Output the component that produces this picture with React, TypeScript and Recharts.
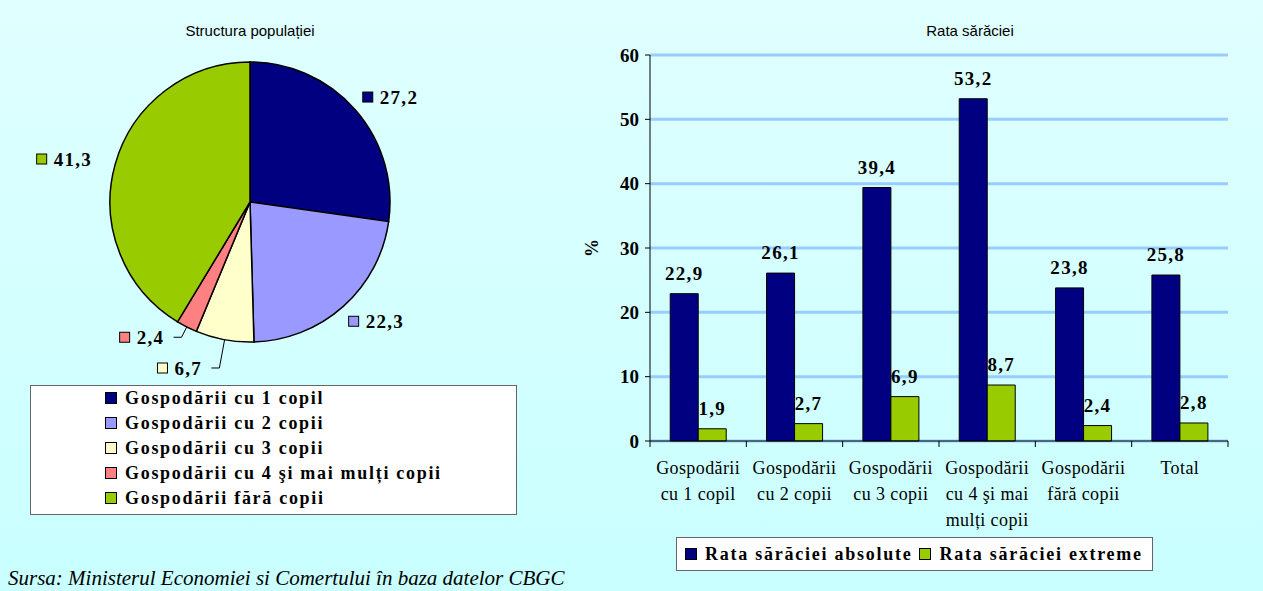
import { Bar, BarChart, CartesianGrid, Cell, LabelList, Pie, PieChart, XAxis, YAxis } from "recharts";

const groups = [
  "Gospodării cu 1 copil",
  "Gospodării cu 2 copii",
  "Gospodării cu 3 copii",
  "Gospodării cu 4 şi mai mulți copii",
  "Gospodării fără copii"
];
const populationShare = [27.2, 22.3, 6.7, 2.4, 41.3];
const groupColors = ["#000080", "#9999FF", "#FFFFCC", "#FF8080", "#99CC00"];

const categoryLines = [
  ["Gospodării", "cu 1 copil"],
  ["Gospodării", "cu 2 copii"],
  ["Gospodării", "cu 3 copii"],
  ["Gospodării", "cu 4 şi mai", "mulți copii"],
  ["Gospodării", "fără copii"],
  ["Total"]
];
const absolutePoverty = [22.9, 26.1, 39.4, 53.2, 23.8, 25.8];
const extremePoverty = [1.9, 2.7, 6.9, 8.7, 2.4, 2.8];
const yTicks = [0, 10, 20, 30, 40, 50, 60];

const seriesNames = ["Rata sărăciei absolute", "Rata sărăciei extreme"];
const seriesColors = ["#000080", "#99CC00"];

const SERIF = "'Liberation Serif', 'Times New Roman', serif";
const SANS = "'Liberation Sans', Arial, sans-serif";

const pieData = groups.map((name, i) => ({ name, value: populationShare[i] }));
const barData = categoryLines.map((lines, i) => ({
  name: lines.join(" "),
  absolute: absolutePoverty[i],
  extreme: extremePoverty[i]
}));

const fmt = (v: any) => Number(v).toFixed(1).replace(".", ",");

// bar chart geometry
const BAR_W = 660;
const BAR_H = 591;
const barMargin = { top: 55, right: 10, bottom: 60, left: 0 };
const Y_AXIS_W = 72;
const PLOT_W = BAR_W - barMargin.right - barMargin.left - Y_AXIS_W;

const valueStyle = { fontFamily: SERIF, fontWeight: "bold", fontSize: 19, fill: "#000", letterSpacing: 1.3 } as const;

const RAD = Math.PI / 180;

function PieLabel(props: any) {
  const { cx, cy, midAngle, outerRadius, value, index } = props;
  const cos = Math.cos(-midAngle * RAD);
  const sin = Math.sin(-midAngle * RAD);
  const text = fmt(value);
  const textW = text.length * 10.3;
  const groupW = 11 + 7 + textW;
  const right = cos >= 0;
  let ax: number, ay: number;
  let leader: any = null;
  if (value >= 10) {
    const r = outerRadius + 20;
    ax = cx + r * cos;
    ay = cy + r * sin;
    if (right) ax -= 8;
    else ax -= groupW;
  } else {
    const sx = cx + outerRadius * cos;
    const sy = cy + outerRadius * sin;
    const r = outerRadius + 2 + value * 4;
    const ex = cx + r * cos;
    const ey = cy + r * sin;
    const hx = right ? ex + 8 : ex - 8;
    leader = <polyline points={`${sx},${sy} ${ex},${ey} ${hx},${ey}`} fill="none" stroke="#000" strokeWidth={1} />;
    ax = right ? hx + 5 : hx - 5 - groupW;
    ay = ey;
  }
  return (
    <g>
      {leader}
      <rect x={ax} y={ay - 5} width={10} height={10} fill={groupColors[index]} stroke="#000" strokeWidth={1} />
      <text x={ax + 17} y={ay} dy="0.36em" style={valueStyle}>
        {text}
      </text>
    </g>
  );
}

function CategoryTick(props: any) {
  const { x, y, index } = props;
  const band = PLOT_W / categoryLines.length;
  const lines = categoryLines[index] || [];
  const last = index === categoryLines.length - 1;
  return (
    <g>
      <line x1={x - band / 2} y1={y} x2={x - band / 2} y2={y + 6} stroke="#000" />
      {last && <line x1={x + band / 2} y1={y} x2={x + band / 2} y2={y + 6} stroke="#000" />}
      {lines.map((line, i) => (
        <text key={i} x={x} y={y + 33 + i * 26} textAnchor="middle" fontFamily={SERIF} fontSize={18} letterSpacing={0.4} fill="#000">
          {line}
        </text>
      ))}
    </g>
  );
}

const swatch = (color: string) => (
  <span
    style={{
      display: "inline-block",
      width: 10,
      height: 10,
      background: color,
      border: "1px solid #000",
      marginRight: 8,
      verticalAlign: "middle",
      position: "relative",
      top: -2
    }}
  />
);

export default function App() {
  return (
    <div
      style={{
        position: "absolute",
        left: 0,
        top: 0,
        width: 1263,
        height: 591,
        overflow: "hidden",
        background: "linear-gradient(#E0FFFF, #C9FFFF)"
      }}
    >
      <div style={{ position: "absolute", left: 150, top: 22, width: 200, textAlign: "center", fontFamily: SANS, fontSize: 15 }}>
        Structura populației
      </div>
      <div style={{ position: "absolute", left: 870, top: 22, width: 200, textAlign: "center", fontFamily: SANS, fontSize: 15 }}>
        Rata sărăciei
      </div>

      <div style={{ position: "absolute", left: 0, top: 0 }}>
        <PieChart width={560} height={380} margin={{ top: 0, right: 0, bottom: 0, left: 0 }}>
          <Pie
            data={pieData}
            dataKey="value"
            nameKey="name"
            cx={250}
            cy={202}
            outerRadius={140}
            startAngle={90}
            endAngle={-270}
            stroke="#000"
            strokeWidth={1.5}
            label={PieLabel}
            labelLine={false}
            isAnimationActive={false}
          >
            {pieData.map((d, i) => (
              <Cell key={d.name} fill={groupColors[i]} />
            ))}
          </Pie>
        </PieChart>
      </div>

      <div
        style={{
          position: "absolute",
          left: 30,
          top: 385,
          width: 487,
          height: 130,
          background: "#fff",
          border: "1px solid #666",
          paddingLeft: 74,
          boxSizing: "border-box",
          fontFamily: SERIF,
          fontWeight: "bold",
          fontSize: 18,
          letterSpacing: 1.7,
          lineHeight: "25px"
        }}
      >
        {groups.map((g, i) => (
          <div key={g} style={{ whiteSpace: "nowrap" }}>
            {swatch(groupColors[i])}
            {g}
          </div>
        ))}
      </div>

      <div style={{ position: "absolute", left: 578, top: 0 }}>
        <BarChart width={BAR_W} height={BAR_H} data={barData} margin={barMargin} barCategoryGap="21%" barGap={0}>
          <CartesianGrid horizontal vertical={false} stroke="#99CCFF" strokeWidth={3} />
          <XAxis
            dataKey="name"
            interval={0}
            height={90}
            tickLine={false}
            tickSize={0}
            tickMargin={0}
            axisLine={{ stroke: "#000" }}
            tick={CategoryTick}
          />
          <YAxis
            width={Y_AXIS_W}
            domain={[0, 60]}
            ticks={yTicks}
            interval={0}
            tickSize={5}
            tickMargin={6}
            axisLine={{ stroke: "#000" }}
            tickLine={{ stroke: "#000" }}
            tick={{ fontFamily: SERIF, fontWeight: "bold", fontSize: 19, fill: "#000" }}
            label={{
              value: "%",
              angle: -90,
              position: "insideLeft",
              offset: 14,
              style: { textAnchor: "middle", fontFamily: SERIF, fontWeight: "bold", fontSize: 18, fill: "#000" }
            }}
          />
          <Bar dataKey="absolute" fill={seriesColors[0]} stroke="#000" strokeWidth={1} isAnimationActive={false}>
            <LabelList dataKey="absolute" position="top" offset={14} formatter={fmt} style={valueStyle} />
          </Bar>
          <Bar dataKey="extreme" fill={seriesColors[1]} stroke="#000" strokeWidth={1} isAnimationActive={false}>
            <LabelList dataKey="extreme" position="top" offset={14} formatter={fmt} style={valueStyle} />
          </Bar>
        </BarChart>
      </div>

      <div
        style={{
          position: "absolute",
          left: 676,
          top: 537,
          width: 477,
          height: 34,
          background: "#fff",
          border: "1px solid #666",
          boxSizing: "border-box",
          paddingLeft: 8,
          fontFamily: SERIF,
          fontWeight: "bold",
          fontSize: 18,
          letterSpacing: 1.75,
          lineHeight: "32px",
          whiteSpace: "nowrap"
        }}
      >
        {seriesNames.map((n, i) => (
          <span key={n} style={{ marginRight: 7 }}>
            {swatch(seriesColors[i])}
            {n}
          </span>
        ))}
      </div>

      <div
        style={{
          position: "absolute",
          left: 8,
          top: 566,
          fontFamily: SERIF,
          fontStyle: "italic",
          fontSize: 21,
          lineHeight: "24px",
          whiteSpace: "nowrap"
        }}
      >
        Sursa: Ministerul Economiei si Comertului în baza datelor CBGC
      </div>
    </div>
  );
}
